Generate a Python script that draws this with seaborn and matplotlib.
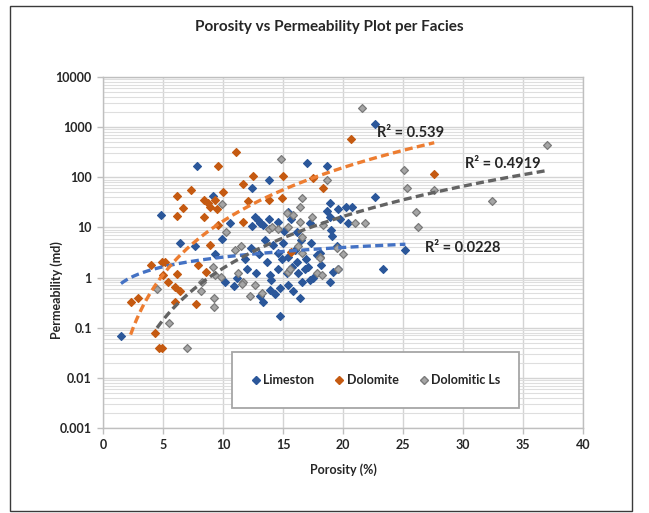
import numpy as np
import pandas as pd
import seaborn as sns
import matplotlib.pyplot as plt
from matplotlib.patches import Rectangle
from matplotlib.lines import Line2D
from matplotlib.ticker import FixedLocator, LogLocator, NullFormatter, FuncFormatter

# ---- core plug data: porosity (%) and permeability (md) per facies ----
limestone_phi = [1.5, 4.8, 6.4, 7.7, 7.8, 9.2, 9.3, 9.9, 10.2, 10.6, 10.9, 11.8, 12.0, 12.4, 12.4,
                 12.7, 12.9, 13.1, 13.3, 12.75, 13.7, 13.8, 13.8, 13.9, 13.1, 13.3, 13.9, 14.3, 14.6,
                 14.75, 14.75, 14.6, 14.9, 15.3, 15.4, 15.4, 15.7, 15.75, 16.2, 16.2, 16.25, 16.6,
                 16.8, 16.9, 17.0, 17.1, 17.25, 17.25, 17.5, 18.1, 18.7, 18.7, 18.9, 18.9, 18.9, 19.1,
                 19.2, 19.5, 19.6, 19.6, 19.75, 20.4, 20.75, 22.7, 22.7, 23.3, 25.2, 15.4, 14.6, 12.3,
                 13.5, 14.2, 15.0, 16.0, 16.5, 17.8, 18.2, 11.2, 14.0, 15.8, 17.3, 13.0, 16.4, 15.1,
                 19.0, 20.25]
limestone_k = [0.068, 18, 5.0, 4.2, 165, 43, 2.9, 6.0, 0.8, 12.5, 0.69, 2.3, 1.45, 60, 10.5,
               16, 14, 12.5, 11, 1.25, 2.0, 88, 15, 1.15, 0.42, 0.32, 0.57, 0.46, 12.6,
               0.63, 0.17, 1.45, 2.3, 1.25, 0.72, 20, 15, 1.65, 2.0, 8.0, 1.25, 0.8,
               1.45, 2.3, 195, 1.65, 0.91, 12.5, 1.0, 3.1, 165, 21, 31, 16.5, 0.8, 6.6,
               1.3, 4.2, 23, 1.45, 14.4, 12.5, 26, 1130, 40, 1.5, 3.5, 2.6, 3.1, 3.8,
               5.5, 4.5, 5.0, 3.5, 5.5, 2.8, 1.8, 1.0, 0.9, 0.55, 4.8, 3.0, 0.4, 8.5,
               9.0, 25]

dolomite_phi = [2.3, 2.9, 4.0, 4.3, 4.7, 4.95, 4.9, 5.2, 5.0, 5.4, 6.0, 6.4, 6.2, 6.0, 6.2, 6.2,
                6.7, 7.3, 7.75, 7.9, 8.4, 8.4, 8.6, 8.75, 8.9, 8.9, 9.3, 9.5, 9.6, 9.6, 10.0,
                11.1, 11.7, 11.7, 12.1, 12.5, 13.8, 14.9, 15.0, 15.7, 17.5, 18.3, 20.7, 27.6]
dolomite_k = [0.33, 0.40, 1.8, 0.08, 0.04, 0.04, 2.0, 2.0, 1.15, 0.8, 0.66, 0.55, 1.2, 0.33, 17, 43,
              24, 55, 0.3, 1.8, 35, 16.5, 1.3, 31, 25, 4.4, 36, 23, 165, 11.4, 50,
              325, 72, 13, 33, 108, 35, 38, 104, 3.3, 95, 60, 580, 115]

dolomitic_ls_phi = [4.5, 5.5, 7.0, 8.25, 8.2, 9.2, 9.3, 9.25, 9.25, 9.8, 9.9, 10.25, 11.0, 11.5,
                    11.25, 11.7, 11.6, 12.25, 12.7, 13.25, 13.8, 14.1, 14.6, 14.8, 15.3, 15.8,
                    15.4, 15.4, 15.6, 16.25, 16.6, 16.4, 16.4, 16.6, 16.6, 17.4, 17.8, 18.1,
                    18.1, 18.25, 18.3, 18.7, 19.5, 19.6, 20.0, 21.0, 21.8, 21.6, 25.1, 25.3,
                    26.1, 26.25, 27.6, 32.4, 37.0]
dolomitic_ls_k = [0.58, 0.126, 0.04, 0.83, 0.55, 1.65, 1.15, 0.4, 0.26, 1.05, 29, 8.0, 3.6, 4.2,
                  1.25, 0.83, 0.75, 0.42, 0.72, 0.5, 9.5, 10.4, 9.5, 236, 19, 18,
                  10.4, 1.3, 1.45, 4.2, 3.1, 13, 26, 38, 6.3, 16, 1.25, 2.6,
                  2.5, 1.15, 11.4, 90, 3.8, 1.45, 2.9, 12.5, 12, 2360, 137, 60,
                  20, 10, 57, 34, 450]

facies_names = ["Limeston", "Dolomite", "Dolomitic Ls"]

# power trendlines k = a * phi^b for each facies, with their R²
trend_a = [0.586, 0.0038, 0.00057]
trend_b = [0.64, 3.546, 3.43]
r_squared = ["0.0228", "0.539", "0.4919"]

x_ticks = [0, 5, 10, 15, 20, 25, 30, 35, 40]
y_ticks = [0.001, 0.01, 0.1, 1, 10, 100, 1000, 10000]
y_tick_labels = ["0.001", "0.01", "0.1", "1", "10", "100", "1000", "10000"]

df = pd.concat([
    pd.DataFrame({"Porosity": limestone_phi, "Perm": limestone_k, "Facies": facies_names[0]}),
    pd.DataFrame({"Porosity": dolomite_phi, "Perm": dolomite_k, "Facies": facies_names[1]}),
    pd.DataFrame({"Porosity": dolomitic_ls_phi, "Perm": dolomitic_ls_k, "Facies": facies_names[2]}),
], ignore_index=True)

marker_fill = {"Limeston": "#2B579A", "Dolomite": "#C55A11", "Dolomitic Ls": "#A5A5A5"}
marker_edge = {"Limeston": "#2B579A", "Dolomite": "#C55A11", "Dolomitic Ls": "#7A7A7A"}
trend_color = {"Limeston": "#4472C4", "Dolomite": "#ED7D31", "Dolomitic Ls": "#636363"}

sns.set_theme(style="white")
plt.rcParams["font.family"] = ["Lato", "DejaVu Sans"]
plt.rcParams["font.weight"] = "bold"

fig = plt.figure(figsize=(6.49, 5.13), dpi=100)
ax = fig.add_axes([103 / 649, 1 - 428 / 513, 480 / 649, 351 / 513])

# trendlines over each facies' porosity range
for name, a, b in zip(facies_names, trend_a, trend_b):
    sub = df[df["Facies"] == name]
    xs = np.linspace(sub["Porosity"].min(), sub["Porosity"].max(), 200)
    sns.lineplot(x=xs, y=a * xs ** b, ax=ax, color=trend_color[name],
                 linewidth=2.4, linestyle=(0, (2.4, 1.3)), zorder=4)

for name in facies_names:
    sub = df[df["Facies"] == name]
    sns.scatterplot(data=sub, x="Porosity", y="Perm", ax=ax, marker="D", s=16,
                    color=marker_fill[name], edgecolor=marker_edge[name], linewidth=0.9,
                    zorder=3, legend=False)

ax.set_yscale("log")
ax.set_xlim(0, 40)
ax.set_ylim(0.001, 10000)
ax.xaxis.set_major_locator(FixedLocator(x_ticks))
ax.yaxis.set_major_locator(FixedLocator(y_ticks))
ax.yaxis.set_major_formatter(FuncFormatter(lambda v, p: y_tick_labels[y_ticks.index(v)] if v in y_ticks else ""))
ax.yaxis.set_minor_locator(LogLocator(base=10, subs=np.arange(2, 10)))
ax.yaxis.set_minor_formatter(NullFormatter())

ax.grid(True, which="major", axis="both", color="#D4D4D4", linewidth=1.0, zorder=0)
ax.grid(True, which="minor", axis="y", color="#DEDEDE", linewidth=0.8, zorder=0)
ax.set_axisbelow(True)
for side, sp in ax.spines.items():
    sp.set_color("#BFBFBF")
    sp.set_linewidth(1.0)
ax.tick_params(axis="both", which="major", length=4, width=1, color="#BFBFBF",
               labelsize=9, pad=4, direction="out", bottom=True, left=True)
ax.tick_params(axis="y", which="minor", length=0)
for lab in ax.get_xticklabels() + ax.get_yticklabels():
    lab.set_fontweight("bold")
    lab.set_color("#262626")

ax.set_xlabel("Porosity (%)", fontsize=9, fontweight="bold", color="#262626", labelpad=9)
ax.set_ylabel("Permeability (md)", fontsize=9, fontweight="bold", color="#262626", labelpad=8)
ax.yaxis.set_label_coords(-0.083, 1 - (290 - 77) / 351)

fig.text(0.508, 1 - 27 / 513, "Porosity vs Permeability Plot per Facies", ha="center", va="center",
         fontsize=11, fontweight="bold", color="#262626")

# R² labels next to each trendline
r2_pos = [(26.8, 3.8), (22.8, 750), (30.2, 180)]
for (px, py), r2 in zip(r2_pos, r_squared):
    ax.text(px, py, f"R² = {r2}", fontsize=10.5, fontweight="bold", color="#262626",
            va="center", ha="left", zorder=5)

# legend box
fig.patches.append(Rectangle((232 / 649, 1 - 408 / 513), 287 / 649, 56 / 513, transform=fig.transFigure,
                             facecolor="white", edgecolor="#A6A6A6", linewidth=1.3, zorder=5))
handles = [Line2D([], [], linestyle="none", marker="D", markersize=4,
                  markerfacecolor=marker_fill[n], markeredgecolor=marker_edge[n]) for n in facies_names]
leg = fig.legend(handles, facies_names, loc="center", bbox_to_anchor=(375 / 649, 1 - 380 / 513),
                 ncol=3, frameon=False, handletextpad=0.1, columnspacing=1.5,
                 handlelength=1.0, prop={"weight": "bold", "size": 9})
leg.set_zorder(6)

# outer chart border
fig.patches.append(Rectangle((10 / 649, 1 - 511 / 513), 622 / 649, 505 / 513, transform=fig.transFigure,
                             facecolor="none", edgecolor="#3A3A3A", linewidth=1.0))

fig.savefig("out.png", dpi=100)
